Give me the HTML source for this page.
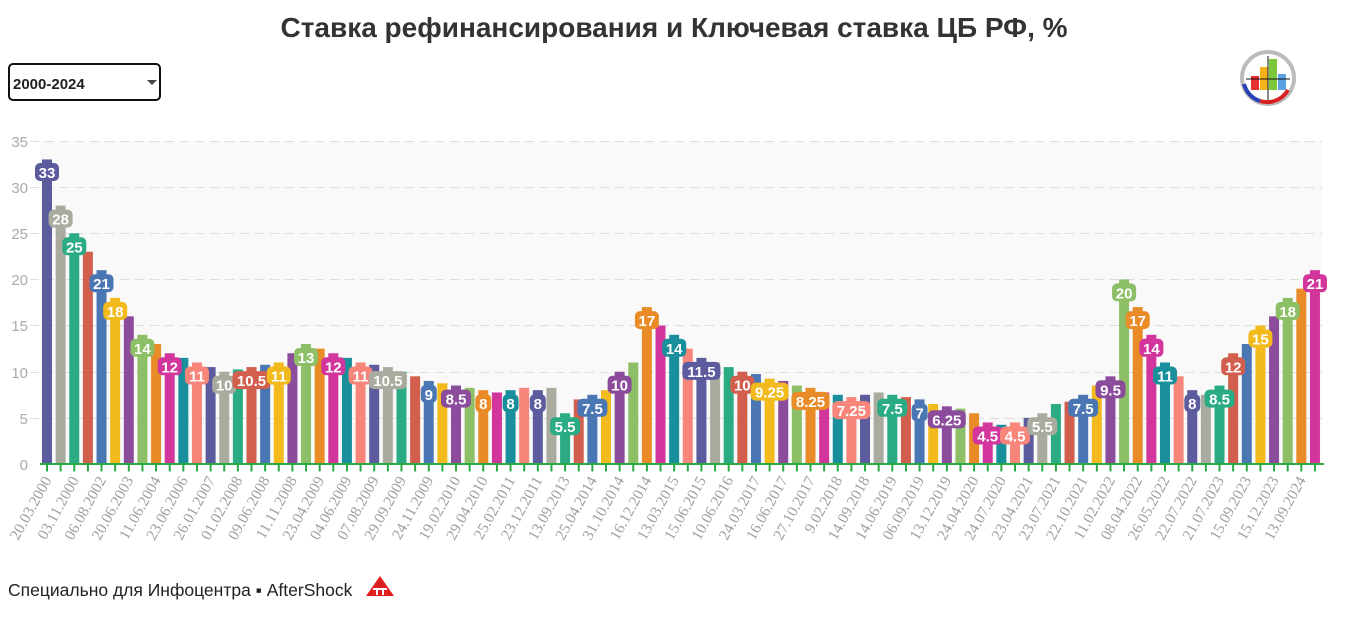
<!DOCTYPE html>
<html><head><meta charset="utf-8">
<style>
body{margin:0;background:#fff;width:1347px;height:614px;overflow:hidden;font-family:"Liberation Sans",sans-serif}
.c0{fill:#5b5b9e}.c1{fill:#a9ab9f}.c2{fill:#2bab84}.c3{fill:#d25f4e}.c4{fill:#4a77b4}.c5{fill:#f2ba1c}
.c6{fill:#8b4c9c}.c7{fill:#8dbf66}.c8{fill:#e98c27}.c9{fill:#d2369c}.c10{fill:#1a8f9c}.c11{fill:#f7857a}
.yl{font:15px "Liberation Sans",sans-serif;fill:#aaa;text-anchor:end}
.xl{font:15.5px "Liberation Serif",serif;fill:#a0a0a0;text-anchor:end}
.dl{font:bold 15px "Liberation Sans",sans-serif;fill:#fff;text-anchor:middle}
</style></head><body>
<svg width="1347" height="614" xmlns="http://www.w3.org/2000/svg">
<text x="674" y="37" text-anchor="middle" style="font:bold 28px 'Liberation Sans',sans-serif;fill:#333">Ставка рефинансирования и Ключевая ставка ЦБ РФ, %</text>
<rect x="9" y="64" width="151" height="36" rx="4" fill="#fff" stroke="#111" stroke-width="2"/>
<text x="13" y="89" style="font:bold 15px 'Liberation Sans',sans-serif;fill:#222">2000-2024</text>
<path d="M147 80h10l-5 5z" fill="#444"/>
<g transform="translate(1268,78)">
<circle r="26" fill="#fff" stroke="#bbb" stroke-width="4"/>
<path d="M-24 6A24 24 0 0 0 -8 23" stroke="#2a3fb5" stroke-width="4" fill="none"/>
<path d="M-8 23A24 24 0 0 0 20 12" stroke="#d82020" stroke-width="4" fill="none"/>
<rect x="-17" y="-2" width="8" height="14" fill="#e83030"/>
<rect x="-8" y="-11" width="8" height="23" fill="#f6b21a"/>
<rect x="1" y="-19" width="8" height="31" fill="#7cc83a"/>
<rect x="10" y="-4" width="8" height="16" fill="#5aa0e0"/>
<path d="M-22 1H22M0 -22V22" stroke="#111" stroke-width="1"/>
</g>
<rect x="40" y="141" width="1282" height="323" fill="#f9f9f9"/>
<g stroke="#ddd" stroke-width="1" stroke-dasharray="9 6">
<line x1="30" x2="1322" y1="141.5" y2="141.5"/><line x1="30" x2="1322" y1="187.5" y2="187.5"/>
<line x1="30" x2="1322" y1="233.5" y2="233.5"/><line x1="30" x2="1322" y1="279.5" y2="279.5"/>
<line x1="30" x2="1322" y1="325.5" y2="325.5"/><line x1="30" x2="1322" y1="372.5" y2="372.5"/>
<line x1="30" x2="1322" y1="418.5" y2="418.5"/>
</g>
<g>
<text class="yl" x="28" y="147">35</text><text class="yl" x="28" y="193">30</text>
<text class="yl" x="28" y="239">25</text><text class="yl" x="28" y="285">20</text>
<text class="yl" x="28" y="331">15</text><text class="yl" x="28" y="378">10</text>
<text class="yl" x="28" y="424">5</text><text class="yl" x="28" y="470">0</text>
</g>
<g transform="translate(47,464) scale(13.634,-9.229)">
<rect class="c0" x="-.367" width=".733" height="33"/>
<rect class="c1" x=".633" width=".733" height="28"/>
<rect class="c2" x="1.633" width=".733" height="25"/>
<rect class="c3" x="2.633" width=".733" height="23"/>
<rect class="c4" x="3.633" width=".733" height="21"/>
<rect class="c5" x="4.633" width=".733" height="18"/>
<rect class="c6" x="5.633" width=".733" height="16"/>
<rect class="c7" x="6.633" width=".733" height="14"/>
<rect class="c8" x="7.633" width=".733" height="13"/>
<rect class="c9" x="8.633" width=".733" height="12"/>
<rect class="c10" x="9.633" width=".733" height="11.5"/>
<rect class="c11" x="10.633" width=".733" height="11"/>
<rect class="c0" x="11.633" width=".733" height="10.5"/>
<rect class="c1" x="12.633" width=".733" height="10"/>
<rect class="c2" x="13.633" width=".733" height="10.25"/>
<rect class="c3" x="14.633" width=".733" height="10.5"/>
<rect class="c4" x="15.633" width=".733" height="10.75"/>
<rect class="c5" x="16.633" width=".733" height="11"/>
<rect class="c6" x="17.633" width=".733" height="12"/>
<rect class="c7" x="18.633" width=".733" height="13"/>
<rect class="c8" x="19.633" width=".733" height="12.5"/>
<rect class="c9" x="20.633" width=".733" height="12"/>
<rect class="c10" x="21.633" width=".733" height="11.5"/>
<rect class="c11" x="22.633" width=".733" height="11"/>
<rect class="c0" x="23.633" width=".733" height="10.75"/>
<rect class="c1" x="24.633" width=".733" height="10.5"/>
<rect class="c2" x="25.633" width=".733" height="10"/>
<rect class="c3" x="26.633" width=".733" height="9.5"/>
<rect class="c4" x="27.633" width=".733" height="9"/>
<rect class="c5" x="28.633" width=".733" height="8.75"/>
<rect class="c6" x="29.633" width=".733" height="8.5"/>
<rect class="c7" x="30.633" width=".733" height="8.25"/>
<rect class="c8" x="31.633" width=".733" height="8"/>
<rect class="c9" x="32.633" width=".733" height="7.75"/>
<rect class="c10" x="33.633" width=".733" height="8"/>
<rect class="c11" x="34.633" width=".733" height="8.25"/>
<rect class="c0" x="35.633" width=".733" height="8"/>
<rect class="c1" x="36.633" width=".733" height="8.25"/>
<rect class="c2" x="37.633" width=".733" height="5.5"/>
<rect class="c3" x="38.633" width=".733" height="7"/>
<rect class="c4" x="39.633" width=".733" height="7.5"/>
<rect class="c5" x="40.633" width=".733" height="8"/>
<rect class="c6" x="41.633" width=".733" height="10"/>
<rect class="c7" x="42.633" width=".733" height="11"/>
<rect class="c8" x="43.633" width=".733" height="17"/>
<rect class="c9" x="44.633" width=".733" height="15"/>
<rect class="c10" x="45.633" width=".733" height="14"/>
<rect class="c11" x="46.633" width=".733" height="12.5"/>
<rect class="c0" x="47.633" width=".733" height="11.5"/>
<rect class="c1" x="48.633" width=".733" height="11"/>
<rect class="c2" x="49.633" width=".733" height="10.5"/>
<rect class="c3" x="50.633" width=".733" height="10"/>
<rect class="c4" x="51.633" width=".733" height="9.75"/>
<rect class="c5" x="52.633" width=".733" height="9.25"/>
<rect class="c6" x="53.633" width=".733" height="9"/>
<rect class="c7" x="54.633" width=".733" height="8.5"/>
<rect class="c8" x="55.633" width=".733" height="8.25"/>
<rect class="c9" x="56.633" width=".733" height="7.75"/>
<rect class="c10" x="57.633" width=".733" height="7.5"/>
<rect class="c11" x="58.633" width=".733" height="7.25"/>
<rect class="c0" x="59.633" width=".733" height="7.5"/>
<rect class="c1" x="60.633" width=".733" height="7.75"/>
<rect class="c2" x="61.633" width=".733" height="7.5"/>
<rect class="c3" x="62.633" width=".733" height="7.25"/>
<rect class="c4" x="63.633" width=".733" height="7"/>
<rect class="c5" x="64.633" width=".733" height="6.5"/>
<rect class="c6" x="65.633" width=".733" height="6.25"/>
<rect class="c7" x="66.633" width=".733" height="6"/>
<rect class="c8" x="67.633" width=".733" height="5.5"/>
<rect class="c9" x="68.633" width=".733" height="4.5"/>
<rect class="c10" x="69.633" width=".733" height="4.25"/>
<rect class="c11" x="70.633" width=".733" height="4.5"/>
<rect class="c0" x="71.633" width=".733" height="5"/>
<rect class="c1" x="72.633" width=".733" height="5.5"/>
<rect class="c2" x="73.633" width=".733" height="6.5"/>
<rect class="c3" x="74.633" width=".733" height="6.75"/>
<rect class="c4" x="75.633" width=".733" height="7.5"/>
<rect class="c5" x="76.633" width=".733" height="8.5"/>
<rect class="c6" x="77.633" width=".733" height="9.5"/>
<rect class="c7" x="78.633" width=".733" height="20"/>
<rect class="c8" x="79.633" width=".733" height="17"/>
<rect class="c9" x="80.633" width=".733" height="14"/>
<rect class="c10" x="81.633" width=".733" height="11"/>
<rect class="c11" x="82.633" width=".733" height="9.5"/>
<rect class="c0" x="83.633" width=".733" height="8"/>
<rect class="c1" x="84.633" width=".733" height="7.5"/>
<rect class="c2" x="85.633" width=".733" height="8.5"/>
<rect class="c3" x="86.633" width=".733" height="12"/>
<rect class="c4" x="87.633" width=".733" height="13"/>
<rect class="c5" x="88.633" width=".733" height="15"/>
<rect class="c6" x="89.633" width=".733" height="16"/>
<rect class="c7" x="90.633" width=".733" height="18"/>
<rect class="c8" x="91.633" width=".733" height="19"/>
<rect class="c9" x="92.633" width=".733" height="21"/>
</g>
<line x1="40" x2="1324" y1="464" y2="464" stroke="#2aa845" stroke-width="2"/>
<line x1="46" x2="1320" y1="468" y2="468" stroke="#2aa845" stroke-width="7" stroke-dasharray="2 11.634"/>
<g>
<rect class="c0" x="35" y="163" width="24" height="18" rx="5"/><text class="dl" x="47" y="178">33</text>
<rect class="c1" x="48.6" y="209.6" width="24" height="18" rx="5"/><text class="dl" x="60.6" y="224.6">28</text>
<rect class="c2" x="62.3" y="237.3" width="24" height="18" rx="5"/><text class="dl" x="74.3" y="252.3">25</text>
<rect class="c4" x="89.5" y="274.2" width="24" height="18" rx="5"/><text class="dl" x="101.5" y="289.2">21</text>
<rect class="c5" x="103.2" y="301.9" width="24" height="18" rx="5"/><text class="dl" x="115.2" y="316.9">18</text>
<rect class="c7" x="130.4" y="338.8" width="24" height="18" rx="5"/><text class="dl" x="142.4" y="353.8">14</text>
<rect class="c9" x="157.7" y="357.3" width="24" height="18" rx="5"/><text class="dl" x="169.7" y="372.3">12</text>
<rect class="c11" x="185" y="366.5" width="24" height="18" rx="5"/><text class="dl" x="197" y="381.5">11</text>
<rect class="c1" x="212.2" y="375.7" width="24" height="18" rx="5"/><text class="dl" x="224.2" y="390.7">10</text>
<rect class="c3" x="232.5" y="371.1" width="38" height="18" rx="5"/><text class="dl" x="251.5" y="386.1">10.5</text>
<rect class="c5" x="266.8" y="366.5" width="24" height="18" rx="5"/><text class="dl" x="278.8" y="381.5">11</text>
<rect class="c7" x="294" y="348" width="24" height="18" rx="5"/><text class="dl" x="306" y="363">13</text>
<rect class="c9" x="321.3" y="357.3" width="24" height="18" rx="5"/><text class="dl" x="333.3" y="372.3">12</text>
<rect class="c11" x="348.6" y="366.5" width="24" height="18" rx="5"/><text class="dl" x="360.6" y="381.5">11</text>
<rect class="c1" x="368.9" y="371.1" width="38" height="18" rx="5"/><text class="dl" x="387.9" y="386.1">10.5</text>
<rect class="c4" x="420.8" y="384.9" width="16" height="18" rx="5"/><text class="dl" x="428.8" y="399.9">9</text>
<rect class="c6" x="441" y="389.6" width="30" height="18" rx="5"/><text class="dl" x="456" y="404.6">8.5</text>
<rect class="c8" x="475.3" y="394.2" width="16" height="18" rx="5"/><text class="dl" x="483.3" y="409.2">8</text>
<rect class="c10" x="502.6" y="394.2" width="16" height="18" rx="5"/><text class="dl" x="510.6" y="409.2">8</text>
<rect class="c0" x="529.8" y="394.2" width="16" height="18" rx="5"/><text class="dl" x="537.8" y="409.2">8</text>
<rect class="c2" x="550.1" y="417.2" width="30" height="18" rx="5"/><text class="dl" x="565.1" y="432.2">5.5</text>
<rect class="c4" x="577.4" y="398.8" width="30" height="18" rx="5"/><text class="dl" x="592.4" y="413.8">7.5</text>
<rect class="c6" x="607.6" y="375.7" width="24" height="18" rx="5"/><text class="dl" x="619.6" y="390.7">10</text>
<rect class="c8" x="634.9" y="311.1" width="24" height="18" rx="5"/><text class="dl" x="646.9" y="326.1">17</text>
<rect class="c10" x="662.2" y="338.8" width="24" height="18" rx="5"/><text class="dl" x="674.2" y="353.8">14</text>
<rect class="c0" x="682.4" y="361.9" width="38" height="18" rx="5"/><text class="dl" x="701.4" y="376.9">11.5</text>
<rect class="c3" x="730.3" y="375.7" width="24" height="18" rx="5"/><text class="dl" x="742.3" y="390.7">10</text>
<rect class="c5" x="750.6" y="382.6" width="38" height="18" rx="5"/><text class="dl" x="769.6" y="397.6">9.25</text>
<rect class="c8" x="791.5" y="391.9" width="38" height="18" rx="5"/><text class="dl" x="810.5" y="406.9">8.25</text>
<rect class="c11" x="832.4" y="401.1" width="38" height="18" rx="5"/><text class="dl" x="851.4" y="416.1">7.25</text>
<rect class="c2" x="877.3" y="398.8" width="30" height="18" rx="5"/><text class="dl" x="892.3" y="413.8">7.5</text>
<rect class="c4" x="911.6" y="403.4" width="16" height="18" rx="5"/><text class="dl" x="919.6" y="418.4">7</text>
<rect class="c6" x="927.8" y="410.3" width="38" height="18" rx="5"/><text class="dl" x="946.8" y="425.3">6.25</text>
<rect class="c9" x="972.7" y="426.5" width="30" height="18" rx="5"/><text class="dl" x="987.7" y="441.5">4.5</text>
<rect class="c11" x="1000" y="426.5" width="30" height="18" rx="5"/><text class="dl" x="1015" y="441.5">4.5</text>
<rect class="c1" x="1027.3" y="417.2" width="30" height="18" rx="5"/><text class="dl" x="1042.3" y="432.2">5.5</text>
<rect class="c4" x="1068.2" y="398.8" width="30" height="18" rx="5"/><text class="dl" x="1083.2" y="413.8">7.5</text>
<rect class="c6" x="1095.5" y="380.3" width="30" height="18" rx="5"/><text class="dl" x="1110.5" y="395.3">9.5</text>
<rect class="c7" x="1112.1" y="283.4" width="24" height="18" rx="5"/><text class="dl" x="1124.1" y="298.4">20</text>
<rect class="c8" x="1125.7" y="311.1" width="24" height="18" rx="5"/><text class="dl" x="1137.7" y="326.1">17</text>
<rect class="c9" x="1139.4" y="338.8" width="24" height="18" rx="5"/><text class="dl" x="1151.4" y="353.8">14</text>
<rect class="c10" x="1153" y="366.5" width="24" height="18" rx="5"/><text class="dl" x="1165" y="381.5">11</text>
<rect class="c0" x="1184.3" y="394.2" width="16" height="18" rx="5"/><text class="dl" x="1192.3" y="409.2">8</text>
<rect class="c2" x="1204.5" y="389.6" width="30" height="18" rx="5"/><text class="dl" x="1219.5" y="404.6">8.5</text>
<rect class="c3" x="1221.2" y="357.3" width="24" height="18" rx="5"/><text class="dl" x="1233.2" y="372.3">12</text>
<rect class="c5" x="1248.4" y="329.6" width="24" height="18" rx="5"/><text class="dl" x="1260.4" y="344.6">15</text>
<rect class="c7" x="1275.7" y="301.9" width="24" height="18" rx="5"/><text class="dl" x="1287.7" y="316.9">18</text>
<rect class="c9" x="1303" y="274.2" width="24" height="18" rx="5"/><text class="dl" x="1315" y="289.2">21</text>
</g>
<g>
<text class="xl" transform="translate(52,480) rotate(-61)">20.03.2000</text>
<text class="xl" transform="translate(79.3,480) rotate(-61)">03.11.2000</text>
<text class="xl" transform="translate(106.5,480) rotate(-61)">06.08.2002</text>
<text class="xl" transform="translate(133.8,480) rotate(-61)">20.06.2003</text>
<text class="xl" transform="translate(161.1,480) rotate(-61)">11.06.2004</text>
<text class="xl" transform="translate(188.3,480) rotate(-61)">23.06.2006</text>
<text class="xl" transform="translate(215.6,480) rotate(-61)">26.01.2007</text>
<text class="xl" transform="translate(242.9,480) rotate(-61)">01.02.2008</text>
<text class="xl" transform="translate(270.1,480) rotate(-61)">09.06.2008</text>
<text class="xl" transform="translate(297.4,480) rotate(-61)">11.11.2008</text>
<text class="xl" transform="translate(324.7,480) rotate(-61)">23.04.2009</text>
<text class="xl" transform="translate(352,480) rotate(-61)">04.06.2009</text>
<text class="xl" transform="translate(379.2,480) rotate(-61)">07.08.2009</text>
<text class="xl" transform="translate(406.5,480) rotate(-61)">29.09.2009</text>
<text class="xl" transform="translate(433.8,480) rotate(-61)">24.11.2009</text>
<text class="xl" transform="translate(461,480) rotate(-61)">19.02.2010</text>
<text class="xl" transform="translate(488.3,480) rotate(-61)">29.04.2010</text>
<text class="xl" transform="translate(515.6,480) rotate(-61)">25.02.2011</text>
<text class="xl" transform="translate(542.8,480) rotate(-61)">23.12.2011</text>
<text class="xl" transform="translate(570.1,480) rotate(-61)">13.09.2013</text>
<text class="xl" transform="translate(597.4,480) rotate(-61)">25.04.2014</text>
<text class="xl" transform="translate(624.6,480) rotate(-61)">31.10.2014</text>
<text class="xl" transform="translate(651.9,480) rotate(-61)">16.12.2014</text>
<text class="xl" transform="translate(679.2,480) rotate(-61)">13.03.2015</text>
<text class="xl" transform="translate(706.4,480) rotate(-61)">15.06.2015</text>
<text class="xl" transform="translate(733.7,480) rotate(-61)">10.06.2016</text>
<text class="xl" transform="translate(761,480) rotate(-61)">24.03.2017</text>
<text class="xl" transform="translate(788.2,480) rotate(-61)">16.06.2017</text>
<text class="xl" transform="translate(815.5,480) rotate(-61)">27.10.2017</text>
<text class="xl" transform="translate(842.8,480) rotate(-61)">9.02.2018</text>
<text class="xl" transform="translate(870,480) rotate(-61)">14.09.2018</text>
<text class="xl" transform="translate(897.3,480) rotate(-61)">14.06.2019</text>
<text class="xl" transform="translate(924.6,480) rotate(-61)">06.09.2019</text>
<text class="xl" transform="translate(951.8,480) rotate(-61)">13.12.2019</text>
<text class="xl" transform="translate(979.1,480) rotate(-61)">24.04.2020</text>
<text class="xl" transform="translate(1006.4,480) rotate(-61)">24.07.2020</text>
<text class="xl" transform="translate(1033.6,480) rotate(-61)">23.04.2021</text>
<text class="xl" transform="translate(1060.9,480) rotate(-61)">23.07.2021</text>
<text class="xl" transform="translate(1088.2,480) rotate(-61)">22.10.2021</text>
<text class="xl" transform="translate(1115.5,480) rotate(-61)">11.02.2022</text>
<text class="xl" transform="translate(1142.7,480) rotate(-61)">08.04.2022</text>
<text class="xl" transform="translate(1170,480) rotate(-61)">26.05.2022</text>
<text class="xl" transform="translate(1197.3,480) rotate(-61)">22.07.2022</text>
<text class="xl" transform="translate(1224.5,480) rotate(-61)">21.07.2023</text>
<text class="xl" transform="translate(1251.8,480) rotate(-61)">15.09.2023</text>
<text class="xl" transform="translate(1279.1,480) rotate(-61)">15.12.2023</text>
<text class="xl" transform="translate(1306.3,480) rotate(-61)">13.09.2024</text>
</g>
<text x="8" y="596" style="font:17.5px 'Liberation Sans',sans-serif;fill:#222">Специально для Инфоцентра ▪ AfterShock</text>
<g transform="translate(366,576)">
<path d="M14 0L28 20H0Z" fill="#e02020"/>
<path d="M7 13H21M11 13V19M17 13V19" stroke="#fff" stroke-width="2"/>
</g>
</svg>
</body></html>
